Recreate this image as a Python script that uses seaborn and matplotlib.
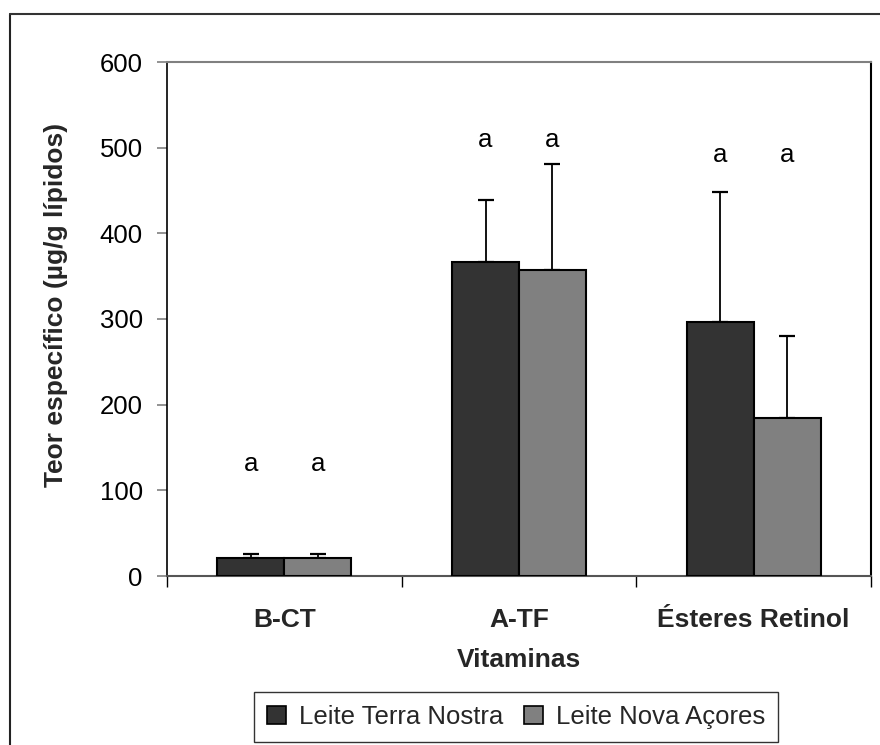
import matplotlib
matplotlib.use("Agg")
import matplotlib.pyplot as plt
from matplotlib.lines import Line2D
from matplotlib.patches import Patch
import numpy as np
import pandas as pd
import seaborn as sns

# Vitamin content per milk brand (mean and standard deviation)
vitaminas = ["B-CT", "A-TF", "Ésteres Retinol"]
marcas = ["Leite Terra Nostra", "Leite Nova Açores"]
media_terra_nostra = [21, 366, 297]
media_nova_acores = [21, 357, 185]
dp_terra_nostra = [5, 73, 151]
dp_nova_acores = [5, 124, 95]
# Statistical grouping letters and their height on the value axis
letras = ["a", "a", "a"]
altura_letras = [131, 509, 491]
y_ticks = [0, 100, 200, 300, 400, 500, 600]

cores = ["#333333", "#808080"]

df = pd.DataFrame({
    "Vitaminas": vitaminas * 2,
    "Marca": [marcas[0]] * 3 + [marcas[1]] * 3,
    "Teor": media_terra_nostra + media_nova_acores,
})

sns.set_theme(style="white")
plt.rcParams["font.family"] = ["Liberation Sans", "DejaVu Sans"]

fig = plt.figure(figsize=(8.8, 7.45), dpi=100)
ax = fig.add_axes([167 / 880, 1 - 576 / 745, 704 / 880, 514 / 745])

sns.barplot(data=df, x="Vitaminas", y="Teor", hue="Marca", order=vitaminas,
            hue_order=marcas, palette=cores, width=0.57, errorbar=None,
            edgecolor="black", linewidth=1.5, legend=False, ax=ax, zorder=3)

# one-sided (upward) error bars and letters above each bar
for cont, dp in zip(ax.containers, [dp_terra_nostra, dp_nova_acores]):
    xs = [b.get_x() + b.get_width() / 2 for b in cont]
    hs = [b.get_height() for b in cont]
    ax.errorbar(xs, hs, yerr=[np.zeros(len(dp)), dp], fmt="none",
                ecolor="black", elinewidth=1.3, capsize=5.5, capthick=1.6,
                zorder=2)
    for x, yl, letra in zip(xs, altura_letras, letras):
        ax.text(x, yl, letra, ha="center", va="center", fontsize=18.5,
                color="black")

ax.set_ylim(0, 600)
ax.set_xlim(-0.5, 2.5)
ax.set_yticks(y_ticks)
ax.set_yticklabels([str(v) for v in y_ticks], fontsize=18.5)
ax.tick_params(axis="y", which="major", direction="out", length=7.5,
               width=1.2, color="#808080", pad=10, labelcolor="black", left=True)

ax.set_xticks(range(len(vitaminas)))
ax.set_xticklabels(vitaminas, fontsize=19, fontweight="bold")
ax.tick_params(axis="x", which="major", length=0, pad=23, bottom=True)
ax.set_xticks([-0.5, 0.5, 1.5, 2.5], minor=True)
ax.tick_params(axis="x", which="minor", direction="out", length=8,
               width=1.0, color="black", bottom=True)

ax.set_xlabel("Vitaminas", fontsize=19, fontweight="bold")
ax.xaxis.set_label_coords(0.5, (576 - 660) / 514)
ax.xaxis.label.set_va("center")
ax.set_ylabel("Teor específico (µg/g lípidos)", fontsize=19, fontweight="bold")
ax.yaxis.set_label_coords((56 - 167) / 704, (576 - 305) / 514)
ax.yaxis.label.set_va("center")

for side in ["left", "right", "top", "bottom"]:
    ax.spines[side].set_visible(True)
ax.spines["left"].set_color("black")
ax.spines["left"].set_linewidth(1.2)
ax.spines["right"].set_color("black")
ax.spines["right"].set_linewidth(1.5)
ax.spines["top"].set_color("#808080")
ax.spines["top"].set_linewidth(1.5)
ax.spines["bottom"].set_color("#555555")
ax.spines["bottom"].set_linewidth(1.5)

handles = [Patch(facecolor=c, edgecolor="black", linewidth=1.2) for c in cores]
leg = ax.legend(handles, marcas, loc="center", ncol=2, fontsize=18.5,
                bbox_to_anchor=(516 / 880, 1 - 717 / 745),
                bbox_transform=fig.transFigure, frameon=True, fancybox=False,
                edgecolor="black", handlelength=0.75, handleheight=0.75,
                handletextpad=0.5, columnspacing=0.8, borderpad=0.5,
                borderaxespad=0)
leg.get_frame().set_linewidth(1.0)

# outer chart frame (left and top edges)
fig.add_artist(Line2D([10 / 880, 10 / 880], [0, 1 - 14 / 745],
                      transform=fig.transFigure, color="#222222", linewidth=1.5))
fig.add_artist(Line2D([10 / 880, 1], [1 - 14 / 745, 1 - 14 / 745],
                      transform=fig.transFigure, color="#333333", linewidth=1.5))

fig.savefig("out.png", dpi=100, facecolor="white")
